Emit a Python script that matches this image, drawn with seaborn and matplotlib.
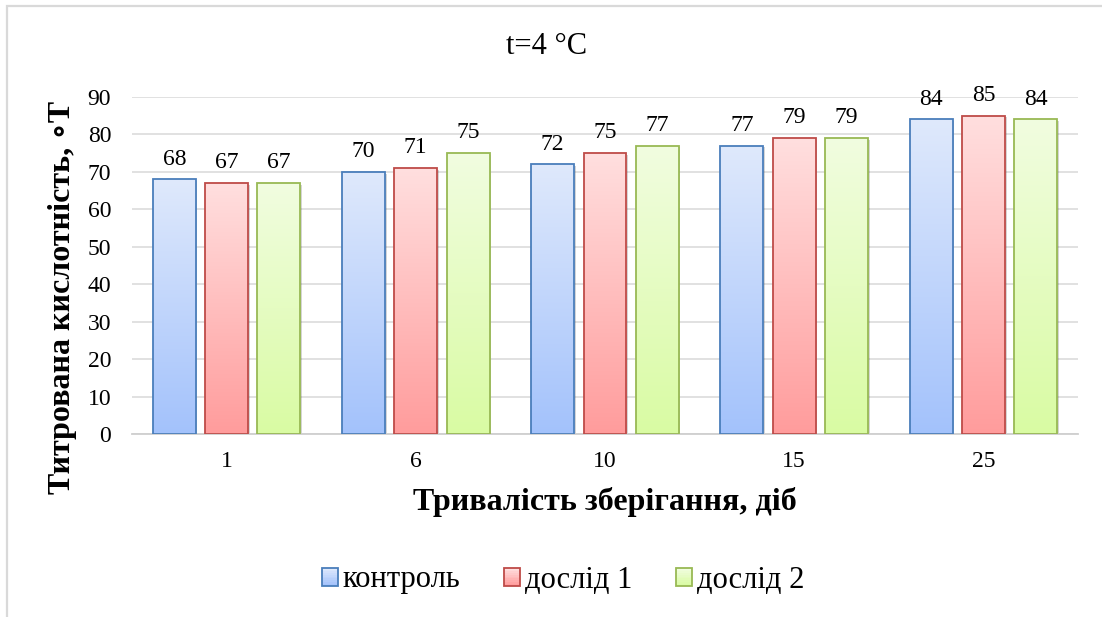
import numpy as np
import pandas as pd
import matplotlib
matplotlib.use("Agg")
import matplotlib.pyplot as plt
import seaborn as sns
from matplotlib.colors import LinearSegmentedColormap
from matplotlib.patches import Rectangle
from matplotlib.legend_handler import HandlerBase
from matplotlib import patheffects as pe

# --- data -----------------------------------------------------------------
days = ["1", "6", "10", "15", "25"]
series = ["контроль", "дослід 1", "дослід 2"]
control = [68, 70, 72, 77, 84]
trial1 = [67, 71, 75, 79, 85]
trial2 = [67, 75, 77, 79, 84]
y_ticks = [0, 10, 20, 30, 40, 50, 60, 70, 80, 90]

title = "t=4 °C"
x_label = "Тривалість зберігання, діб"
y_label = "Титрована кислотність, ∘Т"

# --- styling --------------------------------------------------------------
edge_colors = ["#4a7ebb", "#be4b48", "#98b954"]
top_colors = ["#dfe9fc", "#ffdfdf", "#f1fde0"]
bottom_colors = ["#a3c2fb", "#ff9c9c", "#d9fba3"]
grid_color = "#d9d9d9"

sns.set_theme(style="white")
plt.rcParams["font.family"] = ["Liberation Serif", "DejaVu Serif"]
plt.rcParams["text.color"] = "black"
plt.rcParams["axes.labelcolor"] = "black"

df = pd.DataFrame({
    "day": days * 3,
    "series": [s for s in series for _ in days],
    "value": control + trial1 + trial2,
})

fig = plt.figure(figsize=(11.02, 6.17), dpi=100)
ax = fig.add_axes([132 / 1102, 183 / 617, 946 / 1102, 337 / 617])

sns.barplot(data=df, x="day", y="value", hue="series", order=days,
            hue_order=series, palette=bottom_colors, width=0.83, gap=0.18,
            ax=ax, legend=False, errorbar=None, saturation=1)

ax.set_ylim(0, 90)
ax.set_xlim(-0.5, len(days) - 0.5)
ax.set_yticks(y_ticks)
ax.yaxis.grid(True, color=grid_color, linewidth=1.1, zorder=0)
ax.set_axisbelow(True)
for side in ["left", "right", "top"]:
    ax.spines[side].set_visible(False)
ax.spines["bottom"].set_color("#cfcfcf")
ax.spines["bottom"].set_linewidth(1.3)
ax.tick_params(axis="both", length=0, labelsize=17, colors="black")
ax.tick_params(axis="x", pad=12)
ax.tick_params(axis="y", pad=15)

# gradient fill, shadow and outline for every bar
grad = np.linspace(0, 1, 256).reshape(-1, 1)
for i, cont in enumerate(ax.containers):
    cmap = LinearSegmentedColormap.from_list(
        f"g{i}", [top_colors[i], bottom_colors[i]])
    for bar in cont:
        x0, y0 = bar.get_x(), bar.get_y()
        w, h = bar.get_width(), bar.get_height()
        bar.set_zorder(2)
        bar.set_edgecolor("none")
        bar.set_path_effects([
            pe.SimplePatchShadow(offset=(1.2, -1.2), shadow_rgbFace="k",
                                 alpha=0.18),
            pe.Normal()])
        im = ax.imshow(grad, cmap=cmap, aspect="auto", origin="upper",
                       extent=[x0, x0 + w, y0, y0 + h], zorder=2.5,
                       interpolation="bilinear")
        im.set_clip_path(bar)
        ax.add_patch(Rectangle((x0, y0), w, h, facecolor="none",
                               edgecolor=edge_colors[i], linewidth=1.3,
                               zorder=3))
    ax.bar_label(cont, padding=7, fontsize=17, zorder=4)

ax.set_ylim(0, 90)
ax.set_xlim(-0.5, len(days) - 0.5)

ax.set_xlabel(x_label, fontsize=23, fontweight="bold")
ax.xaxis.set_label_coords(0.5, -0.158)
ax.set_ylabel(y_label, fontsize=23, fontweight="bold")
ax.yaxis.set_label_coords(-0.058, 0.405)

fig.text(547 / 1102, 1 - 47 / 617, title, fontsize=22,
         ha="center", va="center")


class GradientSquare(HandlerBase):
    def __init__(self, top, bottom, edge):
        super().__init__()
        self.top, self.bottom, self.edge = top, bottom, edge

    def create_artists(self, legend, orig_handle, xdescent, ydescent,
                       width, height, fontsize, trans):
        cmap = LinearSegmentedColormap.from_list("h", [self.top, self.bottom])
        n = 10
        arts = []
        for k in range(n):
            yk = -ydescent + height * (1 - (k + 1) / n)
            arts.append(Rectangle((-xdescent, yk), width, height / n,
                                  facecolor=cmap(k / (n - 1)),
                                  edgecolor="none", transform=trans))
        arts.append(Rectangle((-xdescent, -ydescent), width, height,
                              facecolor="none", edgecolor=self.edge,
                              linewidth=1.3, transform=trans))
        return arts


handles = [Rectangle((0, 0), 1, 1) for _ in series]
handler_map = {h: GradientSquare(t, b, e) for h, t, b, e in
               zip(handles, top_colors, bottom_colors, edge_colors)}
fig.legend(handles, series, handler_map=handler_map, loc="center",
           bbox_to_anchor=(563 / 1102, 1 - 580 / 617), ncol=3,
           frameon=False, fontsize=22, handlelength=0.52, handleheight=0.52,
           handletextpad=0.15, columnspacing=1.45)

# outer chart frame
fig.patches.append(Rectangle((7 / 1102, -0.2), 1.3, 1.2 - 6 / 617,
                             transform=fig.transFigure, facecolor="none",
                             edgecolor="#d9d9d9", linewidth=1.6, zorder=0))

fig.savefig("out.png", dpi=100)
